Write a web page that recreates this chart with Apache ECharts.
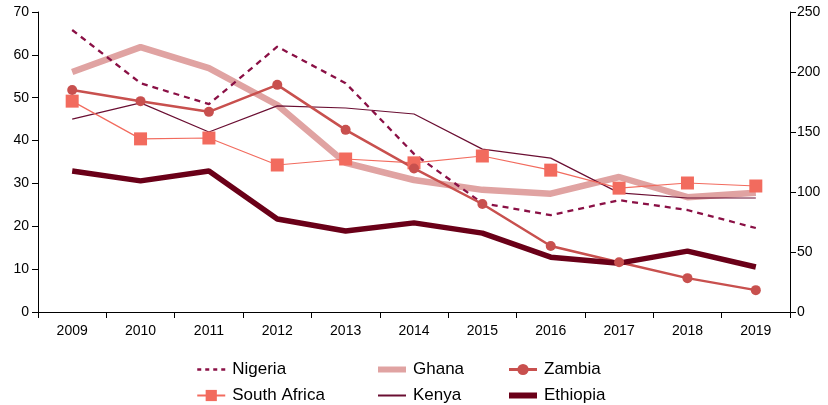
<!DOCTYPE html>
<html><head><meta charset="utf-8">
<script src="https://cdn.jsdelivr.net/npm/echarts@6/dist/echarts.min.js"></script>
<style>html,body{margin:0;padding:0;background:#fff}#c{width:828px;height:405px}</style>
</head><body><div id="c"></div>
<script>
const years = ['2009','2010','2011','2012','2013','2014','2015','2016','2017','2018','2019'];
const nigeria = [65.8,53.4,48.5,61.9,53.4,36.9,25.4,22.6,26.1,23.8,19.6];
const ghana = [56.0,61.8,56.9,48.3,34.8,30.8,28.5,27.6,31.5,26.8,27.8];
const zambia = [51.8,49.2,46.7,53.0,42.5,33.5,25.2,15.4,11.6,7.9,5.1];
const southAfrica = [49.2,40.4,40.6,34.3,35.7,34.8,36.4,33.1,28.9,30.1,29.4];
const kenya = [45.0,48.8,42.0,48.1,47.6,46.2,38.0,35.9,27.8,26.6,26.6];
const ethiopia = [32.9,30.6,32.9,21.7,18.9,20.8,18.4,12.8,11.4,14.2,10.5];

const font = 'Liberation Sans, Arial, sans-serif';
const C = {nigeria:'#8A1045', ghana:'#E0A3A2', zambia:'#C8504E', sa:'#F26B5E', kenya:'#6A0E32', ethiopia:'#6A0018'};
const hidden = {opacity:0, color:'rgba(0,0,0,0)', borderWidth:0};
const chart = echarts.init(document.getElementById('c'), null, {renderer:'canvas'});
const legendBase = {orient:'vertical', itemWidth:28, itemHeight:14, itemGap:9,
  textStyle:{fontFamily:font, fontSize:17, color:'#000', padding:[0,0,0,2]}, selectedMode:false, padding:0};
chart.setOption({
  animation:false,
  grid:{left:38, right:38, top:12, bottom:93, containLabel:false},
  xAxis:{type:'category', data:years, boundaryGap:true,
    axisLine:{lineStyle:{color:'#000', width:1}},
    axisTick:{show:true, interval:0, length:6, lineStyle:{color:'#000'}},
    axisLabel:{fontFamily:font, fontSize:14, color:'#000', margin:12}},
  yAxis:[
    {type:'value', min:0, max:70, interval:10, position:'left',
     axisLine:{show:true, lineStyle:{color:'#000'}},
     axisTick:{show:true, length:6, lineStyle:{color:'#000'}},
     splitLine:{show:false},
     axisLabel:{fontFamily:font, fontSize:14, color:'#000', margin:9}},
    {type:'value', min:0, max:250, interval:50, position:'right',
     axisLine:{show:true, lineStyle:{color:'#000'}},
     axisTick:{show:true, length:6, lineStyle:{color:'#000'}},
     splitLine:{show:false},
     axisLabel:{fontFamily:font, fontSize:14, color:'#000', margin:7}}
  ],
  legend:[
    Object.assign({}, legendBase, {left:196, top:361, data:[
      {name:'Nigeria', itemStyle:hidden, lineStyle:{width:2.5, type:[4,4]}},
      {name:'South Africa', lineStyle:{width:2}}]}),
    Object.assign({}, legendBase, {left:375, top:361, data:[
      {name:'Ghana', itemStyle:hidden, lineStyle:{width:6}},
      {name:'Kenya', itemStyle:hidden, lineStyle:{width:2}}]}),
    Object.assign({}, legendBase, {left:506, top:361, data:[
      {name:'Zambia', lineStyle:{width:3}},
      {name:'Ethiopia', itemStyle:hidden, lineStyle:{width:6}}]})
  ],
  series:[
    {name:'Ghana', type:'line', data:ghana, symbol:'none', lineStyle:{color:C.ghana, width:6.5}, itemStyle:{color:C.ghana}},
    {name:'Kenya', type:'line', data:kenya, symbol:'none', lineStyle:{color:C.kenya, width:1.2}, itemStyle:{color:C.kenya}},
    {name:'Nigeria', type:'line', data:nigeria, symbol:'none', lineStyle:{color:C.nigeria, width:2.3, type:[6,5]}, itemStyle:{color:C.nigeria}},
    {name:'South Africa', type:'line', data:southAfrica, symbol:'rect', symbolSize:13, lineStyle:{color:C.sa, width:1.2}, itemStyle:{color:C.sa}},
    {name:'Zambia', type:'line', data:zambia, symbol:'circle', symbolSize:10, lineStyle:{color:C.zambia, width:2.5}, itemStyle:{color:C.zambia}},
    {name:'Ethiopia', type:'line', data:ethiopia, symbol:'none', lineStyle:{color:C.ethiopia, width:5.5}, itemStyle:{color:C.ethiopia}}
  ]
});
</script></body></html>
